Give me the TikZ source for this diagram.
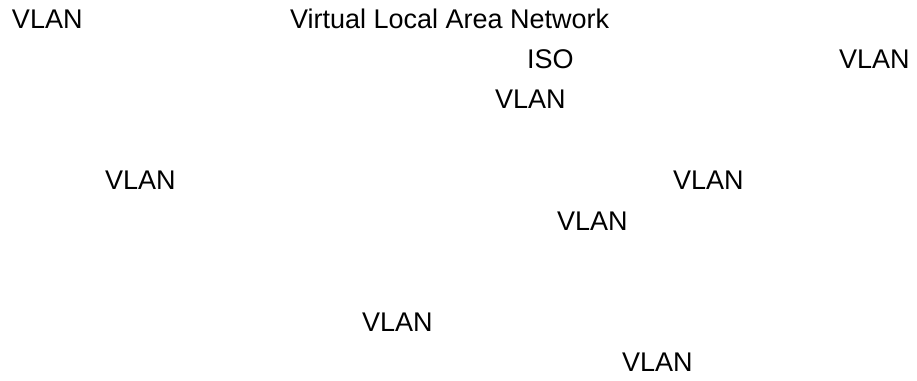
\documentclass[tikz,border=0pt]{standalone}
\usepackage{fontspec}
\setmainfont{Liberation Sans}
\begin{document}
\begin{tikzpicture}[x=1pt,y=-1pt,
  txt/.style={inner sep=0pt,outer sep=0pt,anchor=base west,
    font=\fontsize{27}{32}\selectfont,text=black}]
\useasboundingbox[fill=white] (0,0) rectangle (917,380);
% line 1
\node[txt] (l1a) at (12,28) {VLAN};
\node[txt] (l1b) at (290,28) {Virtual Local Area Network};
% line 2
\node[txt] (l2a) at (527,68) {ISO};
\node[txt] (l2b) at (839,68) {VLAN};
% line 3
\node[txt] (l3a) at (495,108) {VLAN};
% line 5
\node[txt] (l5a) at (105,189) {VLAN};
\node[txt] (l5b) at (673,189) {VLAN};
% line 6
\node[txt] (l6a) at (557,230) {VLAN};
% line 8
\node[txt] (l8a) at (362,331) {VLAN};
% line 9
\node[txt] (l9a) at (622,371) {VLAN};
\end{tikzpicture}
\end{document}
